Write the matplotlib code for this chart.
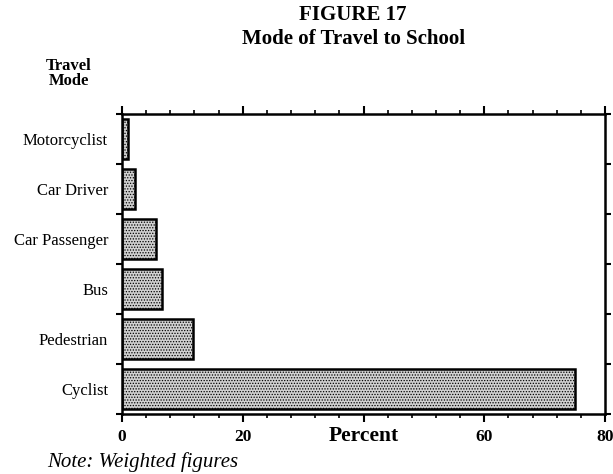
import numpy as np
import matplotlib
matplotlib.use("Agg")
import matplotlib.pyplot as plt

# --- data ---
modes = ["Cyclist", "Pedestrian", "Bus", "Car Passenger", "Car Driver", "Motorcyclist"]
percent = [75.0, 11.7, 6.7, 5.6, 2.1, 1.0]
x_ticks = [0, 20, 40, 60, 80]
x_tick_labels = ["0", "20", "", "60", "80"]

plt.rcParams["font.family"] = ["Liberation Serif", "DejaVu Serif"]
plt.rcParams["hatch.color"] = "#444444"
plt.rcParams["hatch.linewidth"] = 0.6

fig = plt.figure(figsize=(6.13, 4.74), dpi=100)
ax = fig.add_axes([0.199, 0.127, 0.788, 0.633])

y = np.arange(len(modes))
ax.barh(y, percent, height=0.8, facecolor="#d0d0d0", edgecolor="black",
        linewidth=1.8, hatch="......")

ax.set_xlim(0, 80)
ax.set_ylim(-0.5, len(modes) - 0.5)

# x axis: major every 20, minor every 4, ticks on top and bottom pointing out
ax.set_xticks(x_ticks)
ax.set_xticklabels(x_tick_labels, fontsize=12.5, fontweight="bold")
ax.set_xticks(np.arange(0, 81, 4), minor=True)
ax.tick_params(axis="x", which="major", direction="out", length=6, width=1.5,
               top=True, pad=5)
ax.tick_params(axis="x", which="minor", direction="out", length=3, width=1.2,
               top=True)

# y axis: labels at bar centres, ticks at category boundaries
ax.set_yticks(y)
ax.set_yticklabels(modes, fontsize=12)
ax.tick_params(axis="y", which="major", length=0, pad=10)
ax.set_yticks(np.arange(-0.5, len(modes), 1.0), minor=True)
ax.tick_params(axis="y", which="minor", direction="out", length=4, width=1.5,
               right=True)

for s in ax.spines.values():
    s.set_linewidth(1.8)

ax.text(40, -0.04, "Percent", transform=ax.get_xaxis_transform(),
        ha="center", va="top", fontsize=15.5, fontweight="bold")

fig.text(0.576, 0.968, "FIGURE 17", ha="center", va="center",
         fontsize=15, fontweight="bold")
fig.text(0.576, 0.918, "Mode of Travel to School", ha="center", va="center",
         fontsize=15, fontweight="bold")
fig.text(0.112, 0.845, "Travel\nMode", ha="center", va="center",
         fontsize=12, fontweight="bold", linespacing=0.95)
fig.text(0.077, 0.025, "Note: Weighted figures", ha="left", va="center",
         fontsize=15, fontstyle="italic")

fig.savefig("out.png", dpi=100)
